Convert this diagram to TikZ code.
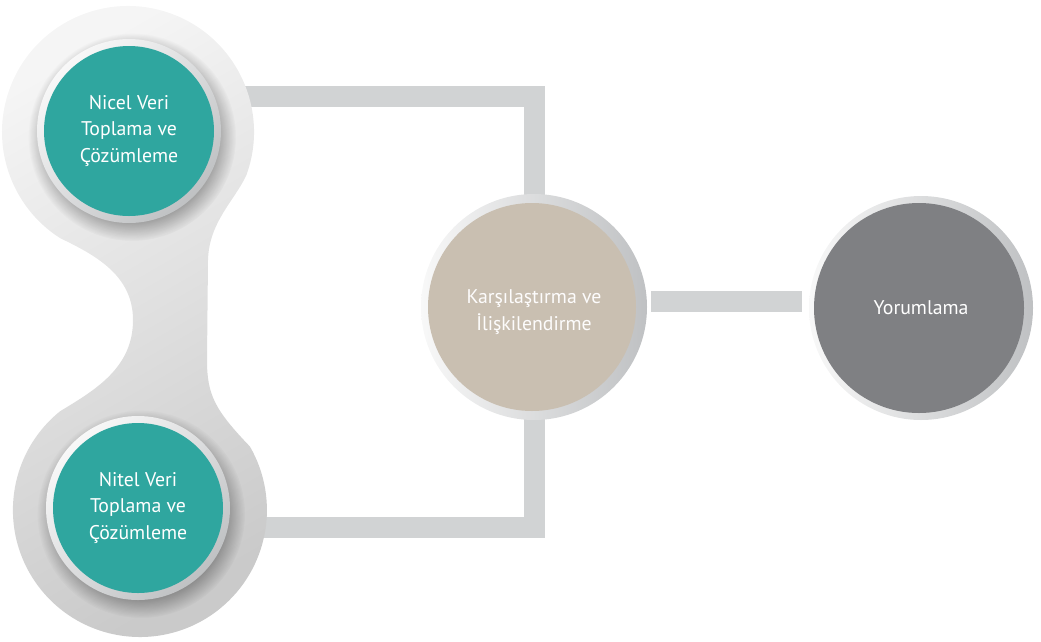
\documentclass[tikz,border=0pt]{standalone}
\usepackage{fontspec}
\setmainfont{PT Sans}
\usetikzlibrary{fadings}

\definecolor{tealfill}{HTML}{2FA69F}
\definecolor{beige}{HTML}{C9BFB1}
\definecolor{slate}{HTML}{7F8083}
\definecolor{barcol}{HTML}{D1D3D4}
\definecolor{rimlight}{HTML}{F8F8F8}
\definecolor{rimdark}{HTML}{BFC1C3}
\definecolor{blobA}{HTML}{F5F5F5}
\definecolor{blobB}{HTML}{CACACA}

\pgfdeclarelayer{bars}
\pgfdeclarelayer{blob}
\pgfdeclarelayer{softshadow}
\pgfsetlayers{bars,blob,softshadow,main}

\tikzset{
  label text/.style={text=white, align=center, font=\fontsize{19.8pt}{26.5pt}\selectfont},
  tealnode/.style={circle, inner sep=0pt, minimum size=184pt,
    top color=rimlight, bottom color=rimdark, shading angle=45,
    path picture={\fill[tealfill] (path picture bounding box.center) circle[radius=85pt];},
    label text},
  bignode/.style n args={3}{circle, inner sep=0pt, minimum size=#1,
    left color=rimlight, right color=rimdark,
    path picture={\fill[#2] ([xshift=-2pt]path picture bounding box.center) circle[radius=#3];},
    label text},
  bar/.style={draw=barcol, line width=21pt, line join=miter},
  dropshade/.style={black, opacity=.32, path fading=circle with fuzzy edge 20 percent}
}

\begin{document}
\begin{tikzpicture}[x=1pt, y=1pt]
\useasboundingbox (0,0) rectangle (1041,-641);

% the two data-collection stages
\node[tealnode] (nicel) at (129,-131) {Nicel Veri\\Toplama ve\\Çözümleme};
\node[tealnode] (nitel) at (138,-508) {Nitel Veri\\Toplama ve\\Çözümleme};

% comparison and interpretation stages
\node[bignode={226pt}{beige}{104pt}] (karsi) at (534,-307) {};
\node[label text, text=white!96!beige] (karsitext) at ([yshift=-5pt]karsi.center) {Karşılaştırma ve\\İlişkilendirme};
\node[bignode={224pt}{slate}{105pt}] (yorum) at (921,-308) {Yorumlama};

% soft shadows under the data-collection discs
\begin{pgfonlayer}{softshadow}
\fill[dropshade] ([shift={(3,-6)}]nicel.center) circle[radius=104pt];
\fill[dropshade] ([shift={(3,-6)}]nitel.center) circle[radius=104pt];
\end{pgfonlayer}

% grey backdrop joining the two data-collection stages
\begin{pgfonlayer}{blob}
\shade[top color=blobA, bottom color=blobB, shading angle=30]
  (246.4,-175.1) arc[start angle=-20, end angle=237.3, radius=126pt]
  .. controls (95,-255) and (133,-275) .. (133,-320)
  .. controls (133,-368) and (95,-390) .. (60,-411.3)
  arc[start angle=129, end angle=390, radius=127pt]
  .. controls (215,-410) and (207,-395) .. (207,-360)
  -- (208,-260)
  .. controls (209,-222) and (235,-200) .. (246.4,-175.1) -- cycle;
\end{pgfonlayer}

% connecting bars
\begin{pgfonlayer}{bars}
\draw[bar] ([yshift=35pt]nicel.center) -| (karsi.center);
\draw[bar] ([yshift=-19.5pt]nitel.center) -| (karsi.center);
\draw[bar, shorten <=4pt, shorten >=7pt] ([yshift=5.5pt]karsi.east) -- ([yshift=5.5pt]karsi.east -| yorum.west);
\end{pgfonlayer}
\end{tikzpicture}
\end{document}
